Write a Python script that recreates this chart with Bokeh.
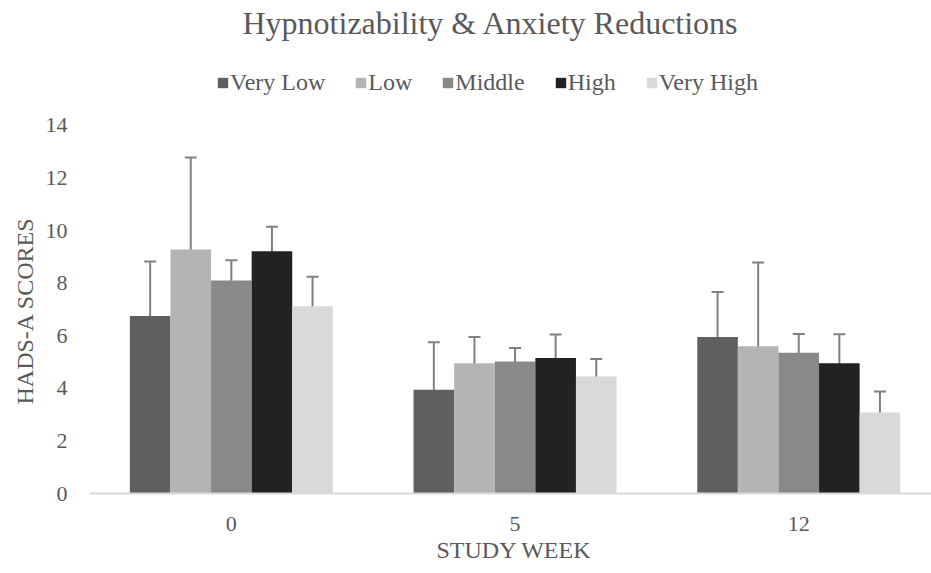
from bokeh.plotting import figure
from bokeh.models import (ColumnDataSource, Range1d, FixedTicker, Whisker, TeeHead,
                          Legend, LegendItem, Title)
from bokeh.embed import file_html
from bokeh.resources import INLINE

weeks = ["0", "5", "12"]
groups = ["Very Low", "Low", "Middle", "High", "Very High"]
colors = ["#5f5f5f", "#b4b4b4", "#898989", "#222222", "#d9d9d9"]

very_low = [6.75, 3.95, 5.95]
low = [9.28, 4.95, 5.60]
middle = [8.10, 5.02, 5.35]
high = [9.21, 5.15, 4.95]
very_high = [7.12, 4.45, 3.08]

very_low_err = [2.07, 1.80, 1.71]
low_err = [3.50, 1.00, 3.19]
middle_err = [0.77, 0.51, 0.72]
high_err = [0.94, 0.90, 1.11]
very_high_err = [1.12, 0.67, 0.80]

y_ticks = [0, 2, 4, 6, 8, 10, 12, 14]

values = [very_low, low, middle, high, very_high]
errors = [very_low_err, low_err, middle_err, high_err, very_high_err]

FONT = "Liberation Serif"
TXT = "#595959"

W, H = 931, 573
LEFT, TOP, BOTTOM = 89, 40, 80
bar_w = 0.1431
x_end = -0.5 + (W - LEFT) / 283.7
frame_h = H - TOP - BOTTOM
y_end = frame_h / 26.29

p = figure(width=W, height=H, output_backend="svg", toolbar_location=None,
           x_range=Range1d(-0.5, x_end), y_range=Range1d(0, y_end),
           min_border_left=LEFT, min_border_right=0, min_border_top=TOP,
           min_border_bottom=BOTTOM, title="Hypnotizability & Anxiety Reductions")
p.outline_line_color = None
p.grid.visible = False

p.title.text_font = FONT
p.title.text_font_size = "32px"
p.title.text_font_style = "normal"
p.title.text_color = TXT
p.title.align = "left"
p.title.offset = 153
p.title.standoff = 0

items = []
n = len(groups)
for i, (g, c, v, e) in enumerate(zip(groups, colors, values, errors)):
    off = (i - (n - 1) / 2) * bar_w
    xs = [k + off for k in range(len(weeks))]
    src = ColumnDataSource(dict(x=xs, top=v,
                                upper=[a + b for a, b in zip(v, e)],
                                lower=[a - b for a, b in zip(v, e)]))
    r = p.vbar(x="x", top="top", bottom=0, width=bar_w, source=src,
               fill_color=c, line_color=None)
    items.append(LegendItem(label=g, renderers=[r]))
    wk = Whisker(base="x", upper="upper", lower="lower", source=src,
                 dimension="height", line_color="#808080", line_width=2,
                 upper_head=TeeHead(size=12, line_color="#808080", line_width=2),
                 lower_head=TeeHead(size=12, line_color="#808080", line_width=2))
    p.add_layout(wk)

legend = Legend(items=items, orientation="horizontal", location=(127, 397),
                label_text_font=FONT, label_text_font_size="24px",
                label_text_color=TXT, glyph_width=13, glyph_height=13,
                label_standoff=1, spacing=29, padding=0, margin=0,
                border_line_color=None, background_fill_alpha=0)
p.add_layout(legend, "center")

p.xaxis.ticker = FixedTicker(ticks=list(range(len(weeks))))
p.xaxis.major_label_overrides = {i: w for i, w in enumerate(weeks)}
p.yaxis.ticker = FixedTicker(ticks=y_ticks)

for ax in (p.xaxis[0], p.yaxis[0]):
    ax.major_tick_line_color = None
    ax.minor_tick_line_color = None
    ax.major_tick_out = 0
    ax.major_tick_in = 0
    ax.major_label_text_font = FONT
    ax.major_label_text_font_size = "22px"
    ax.major_label_text_color = TXT

p.xaxis.axis_line_color = "#d9d9d9"
p.xaxis.axis_line_width = 2
p.xaxis.major_label_standoff = 23
p.yaxis.axis_line_color = None
p.yaxis.major_label_standoff = 22

xt = Title(text="STUDY WEEK", align="left", offset=347, standoff=3,
           text_font=FONT, text_font_size="24px", text_font_style="normal",
           text_color=TXT)
p.add_layout(xt, "below")
yt = Title(text="HADS-A SCORES", align="left", offset=89, standoff=10,
           text_font=FONT, text_font_size="24px", text_font_style="normal",
           text_color=TXT)
p.add_layout(yt, "left")

open("out.html", "w").write(file_html(p, INLINE))
